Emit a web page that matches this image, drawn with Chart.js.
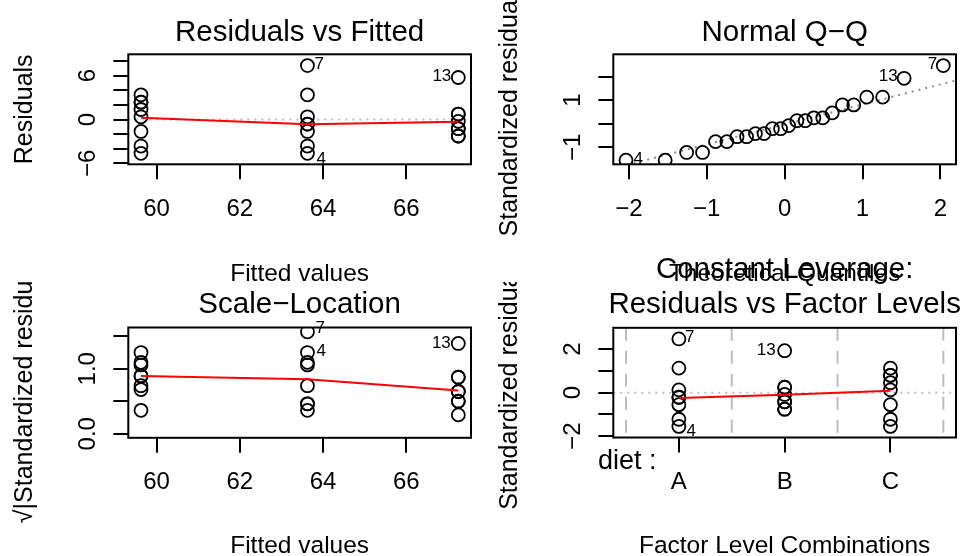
<!DOCTYPE html>
<html>
<head>
<meta charset="utf-8">
<script src="https://cdn.jsdelivr.net/npm/chart.js@4.4.0/dist/chart.umd.min.js"></script>
<style>
  html, body { margin: 0; padding: 0; background: #fff; }
  #wrap { position: relative; width: 971px; height: 556px; overflow: hidden; }
  #wrap canvas { position: absolute; left: 0; top: 0; }
</style>
</head>
<body>
<div id="wrap">
  <canvas id="resfit" width="971" height="556"></canvas>
  <canvas id="qq" width="971" height="556"></canvas>
  <canvas id="scaleloc" width="971" height="556"></canvas>
  <canvas id="factor" width="971" height="556"></canvas>
</div>
<script>
// --- data ---

// fitted value of each diet group
const fittedLevels = [59.625, 63.625, 67.25];

// residuals per fitted group (middle group: obs 7 first, obs 4 last; top group: obs 13 first)
const residLow  = [3.375, 2.375, 2.375, 1.375, 0.375, -1.625, -3.625, -4.625];
const residMid  = [7.375, 3.375, 0.375, -0.625, -0.625, -1.625, -3.625, -4.625];
const residHigh = [5.75, 0.75, 0.75, -0.25, -1.25, -1.25, -2.25, -2.25];
const residSmooth = [0.25, -0.65, -0.3];

// normal Q-Q
const theoQuantiles = [-2.037, -1.534, -1.258, -1.054, -0.887, -0.742, -0.611, -0.489,
  -0.375, -0.264, -0.157, -0.052, 0.052, 0.157, 0.264, 0.375, 0.489, 0.611, 0.742,
  0.887, 1.054, 1.258, 1.534, 2.037];
const stdResidSorted = [-1.55, -1.55, -1.22, -1.22, -0.76, -0.76, -0.55, -0.55,
  -0.42, -0.42, -0.21, -0.21, -0.08, 0.13, 0.13, 0.25, 0.25, 0.46, 0.80, 0.80,
  1.13, 1.13, 1.93, 2.47];
const qqSlope = 0.85;
const qqIntercept = -0.03;

// scale-location, sqrt(|standardized residual|)
const sqrtLow  = [1.06, 0.89, 0.89, 0.68, 0.36, 0.74, 1.10, 1.25];
const sqrtMid  = [1.57, 1.06, 0.36, 0.46, 0.46, 0.74, 1.10, 1.25];
const sqrtHigh = [1.39, 0.50, 0.50, 0.29, 0.65, 0.65, 0.87, 0.87];
const sqrtSmooth = [0.89, 0.84, 0.665];

// standardized residuals vs factor levels
const dietLevels = ['A', 'B', 'C'];
const stdA = [2.47, 1.13, 0.13, -0.21, -0.21, -0.55, -1.22, -1.55];
const stdB = [1.93, 0.25, 0.25, -0.08, -0.42, -0.42, -0.76, -0.76];
const stdC = [1.13, 0.80, 0.80, 0.46, 0.13, -0.55, -1.22, -1.55];
const factorSmooth = [-0.24, -0.09, 0.09];
const levelBreaks = [0.5, 1.5, 2.5, 3.5];

// ticks
const fitTicks = [60, 62, 64, 66];
const residTicks = [-6, -4, -2, 0, 2, 4, 6, 8];
const residTickLabels = [-6, 0, 6];
const qqXTicks = [-2, -1, 0, 1, 2];
const qqYTicks = [-1, 0, 1, 2];
const qqYTickLabels = [-1, 1];
const sqrtTicks = [0, 0.5, 1, 1.5];
const sqrtTickLabels = [0, 1];
const factorXTicks = [1, 2, 3];
const factorYTicks = [-2, -1, 0, 1, 2];
const factorYTickLabels = [-2, 0, 2];

// --- drawing ---
const FAMILY = '"Liberation Sans", Arial, Helvetica, sans-serif';
const font = px => px + 'px ' + FAMILY;
const minus = s => String(s).replace('-', '\u2212');
const Wy = 70, Hx = 70;

const decor = {};   // per canvas: titles, axis titles, labels, reference lines

const decorPlugin = {
    id: 'rdecor',
    beforeDatasetsDraw(chart) {
        const d = decor[chart.canvas.id];
        const ctx = chart.ctx, a = chart.chartArea;
        const xs = chart.scales.x, ys = chart.scales.y;
        ctx.save();
        ctx.beginPath();
        ctx.rect(a.left, a.top, a.right - a.left, a.bottom - a.top);
        ctx.clip();
        ctx.lineWidth = 2;
        // dotted zero line
        if (d.zeroLine) {
            const y = ys.getPixelForValue(0);
            ctx.strokeStyle = '#bebebe';
            ctx.setLineDash([2, 5]);
            ctx.beginPath(); ctx.moveTo(a.left, y); ctx.lineTo(a.right, y); ctx.stroke();
        }
        // dashed factor level separators
        if (d.vBreaks) {
            ctx.strokeStyle = '#bebebe';
            ctx.setLineDash([13, 10]);
            d.vBreaks.forEach(v => {
                const x = xs.getPixelForValue(v);
                ctx.beginPath(); ctx.moveTo(x, a.top); ctx.lineTo(x, a.bottom); ctx.stroke();
            });
        }
        // qq reference line
        if (d.abline) {
            const x0 = xs.min, x1 = xs.max;
            ctx.strokeStyle = '#8c8c8c';
            ctx.setLineDash([2, 5]);
            ctx.beginPath();
            ctx.moveTo(xs.getPixelForValue(x0), ys.getPixelForValue(d.abline.a + d.abline.b * x0));
            ctx.lineTo(xs.getPixelForValue(x1), ys.getPixelForValue(d.abline.a + d.abline.b * x1));
            ctx.stroke();
        }
        ctx.restore();
    },
    afterDraw(chart) {
        const d = decor[chart.canvas.id];
        const ctx = chart.ctx, a = chart.chartArea;
        const xs = chart.scales.x, ys = chart.scales.y;
        const cx = (a.left + a.right) / 2, cy = (a.top + a.bottom) / 2;
        ctx.save();
        // plot box
        ctx.strokeStyle = '#000';
        ctx.lineWidth = 2;
        ctx.setLineDash([]);
        ctx.strokeRect(a.left, a.top, a.right - a.left, a.bottom - a.top);

        ctx.fillStyle = '#000';
        ctx.textBaseline = 'alphabetic';
        ctx.textAlign = 'center';
        // main title
        ctx.font = font(29.5);
        d.title.forEach(t => ctx.fillText(t.text, cx, t.base));
        // x axis title
        ctx.font = font(24.5);
        ctx.fillText(d.xTitle, cx, d.xTitleBase);
        // extra text (factor name)
        if (d.extra) {
            ctx.font = font(d.extra.size);
            ctx.textAlign = 'left';
            ctx.fillText(d.extra.text, d.extra.x, d.extra.base);
        }
        // y axis title, clipped to the figure region
        ctx.save();
        ctx.beginPath();
        ctx.rect(0, d.clipTop, 971, 556 - d.clipTop);
        ctx.clip();
        ctx.translate(d.yTitleX, cy);
        ctx.rotate(-Math.PI / 2);
        ctx.textAlign = 'center';
        ctx.font = font(25);
        ctx.fillText(d.yTitle, 0, 0);
        ctx.restore();
        // point id labels
        ctx.font = font(17);
        ctx.textBaseline = 'middle';
        d.ids.forEach(p => {
            ctx.textAlign = p.align;
            ctx.fillText(p.text, xs.getPixelForValue(p.x) + p.dx, ys.getPixelForValue(p.y) + p.dy);
        });
        ctx.restore();
    }
};

function axisOpts(cfg, vertical) {
    const o = {
        type: 'linear',
        position: vertical ? 'left' : 'bottom',
        min: cfg.min,
        max: cfg.max,
        afterBuildTicks: s => { s.ticks = cfg.ticks.map(v => ({ value: v })); },
        grid: { display: true, drawOnChartArea: false, drawTicks: true, tickLength: 15, color: '#000', lineWidth: 2 },
        border: { display: false },
        ticks: {
            autoSkip: false,
            color: '#000',
            font: { family: FAMILY, size: 24 },
            padding: cfg.pad,
            callback: cfg.label
        }
    };
    if (vertical) {
        o.afterFit = s => { s.width = Wy; };
        o.ticks.minRotation = 90;
        o.ticks.maxRotation = 90;
        o.ticks.crossAlign = 'center';
    } else {
        o.afterFit = s => { s.height = Hx; };
        o.ticks.minRotation = 0;
        o.ticks.maxRotation = 0;
    }
    return o;
}

function buildPanel(id, geo, xCfg, yCfg, points, smooth) {
    return new Chart(document.getElementById(id), {
        type: 'scatter',
        data: {
            datasets: [
                {
                    data: smooth, showLine: true, borderColor: '#ff0000', borderWidth: 2,
                    pointRadius: 0, tension: 0, fill: false, order: 0
                },
                {
                    data: points, pointStyle: 'circle', pointRadius: 6.5, pointBorderWidth: 1.8,
                    pointBorderColor: '#000', pointBackgroundColor: 'rgba(0,0,0,0)', showLine: false, order: 1
                }
            ]
        },
        options: {
            responsive: false,
            animation: false,
            devicePixelRatio: 1,
            events: [],
            layout: {
                autoPadding: false,
                padding: { left: geo.L - Wy, top: geo.T, right: 971 - geo.R, bottom: 556 - geo.B - Hx }
            },
            plugins: { legend: { display: false }, tooltip: { enabled: false }, title: { display: false } },
            scales: { x: axisOpts(xCfg, false), y: axisOpts(yCfg, true) }
        },
        plugins: [decorPlugin]
    });
}

const groupPoints = (xs, groups) => {
    const pts = [];
    groups.forEach((g, i) => g.forEach(v => pts.push({ x: xs[i], y: v })));
    return pts;
};
const linePoints = (xs, ys) => xs.map((x, i) => ({ x: x, y: ys[i] }));
const plainLabel = v => minus(v);
const someLabels = (keep, digits) => v => keep.includes(v) ? minus(digits ? v.toFixed(digits) : v) : '';

// 1. Residuals vs Fitted
decor.resfit = {
    title: [{ text: 'Residuals vs Fitted', base: 40.7 }],
    xTitle: 'Fitted values', xTitleBase: 280.5,
    yTitle: 'Residuals', yTitleX: 32, clipTop: 0,
    zeroLine: true,
    ids: [
        { x: fittedLevels[1], y: residMid[0], text: '7', dx: 7, dy: -1, align: 'left' },
        { x: fittedLevels[1], y: residMid[7], text: '4', dx: 9, dy: 5.5, align: 'left' },
        { x: fittedLevels[2], y: residHigh[0], text: '13', dx: -7, dy: -0.7, align: 'right' }
    ]
};
buildPanel('resfit', { L: 128.3, R: 471, T: 54.3, B: 164.3 },
    { min: 59.32, max: 67.555, ticks: fitTicks, pad: 16, label: plainLabel },
    { min: -6.12, max: 8.92, ticks: residTicks, pad: 11.6, label: someLabels(residTickLabels) },
    groupPoints(fittedLevels, [residLow, residMid, residHigh]),
    linePoints(fittedLevels, residSmooth));

// 2. Normal Q-Q
decor.qq = {
    title: [{ text: 'Normal Q\u2212Q', base: 40.7 }],
    xTitle: 'Theoretical Quantiles', xTitleBase: 280.5,
    yTitle: 'Standardized residuals', yTitleX: 517, clipTop: 0,
    abline: { a: qqIntercept, b: qqSlope },
    ids: [
        { x: theoQuantiles[23], y: stdResidSorted[23], text: '7', dx: -6, dy: -1.5, align: 'right' },
        { x: theoQuantiles[22], y: stdResidSorted[22], text: '13', dx: -6.5, dy: -1.5, align: 'right' },
        { x: theoQuantiles[0], y: stdResidSorted[0], text: '4', dx: 7.5, dy: -0.7, align: 'left' }
    ]
};
buildPanel('qq', { L: 613.3, R: 956, T: 54.3, B: 164.3 },
    { min: -2.2, max: 2.2, ticks: qqXTicks, pad: 16, label: plainLabel },
    { min: -1.724, max: 2.95, ticks: qqYTicks, pad: 11.6, label: someLabels(qqYTickLabels) },
    linePoints(theoQuantiles, stdResidSorted),
    []);

// 3. Scale-Location
decor.scaleloc = {
    title: [{ text: 'Scale\u2212Location', base: 313 }],
    xTitle: 'Fitted values', xTitleBase: 553,
    yTitle: '\u221A|Standardized residuals|', yTitleX: 32, clipTop: 282,
    ids: [
        { x: fittedLevels[1], y: sqrtMid[0], text: '7', dx: 8, dy: -3.3, align: 'left' },
        { x: fittedLevels[1], y: sqrtMid[7], text: '4', dx: 9, dy: -1, align: 'left' },
        { x: fittedLevels[2], y: sqrtHigh[0], text: '13', dx: -7.5, dy: -0.5, align: 'right' }
    ]
};
buildPanel('scaleloc', { L: 128.3, R: 471, T: 327.5, B: 437.8 },
    { min: 59.32, max: 67.555, ticks: fitTicks, pad: 15.6, label: plainLabel },
    { min: -0.063, max: 1.636, ticks: sqrtTicks, pad: 8.6, label: someLabels(sqrtTickLabels, 1) },
    groupPoints(fittedLevels, [sqrtLow, sqrtMid, sqrtHigh]),
    linePoints(fittedLevels, sqrtSmooth));

// 4. Residuals vs Factor Levels
decor.factor = {
    title: [
        { text: 'Constant Leverage:', base: 278 },
        { text: 'Residuals vs Factor Levels', base: 313 }
    ],
    xTitle: 'Factor Level Combinations', xTitleBase: 553,
    yTitle: 'Standardized residuals', yTitleX: 517, clipTop: 282,
    zeroLine: true,
    vBreaks: levelBreaks,
    extra: { text: 'diet :', x: 598, base: 468.7, size: 27 },
    ids: [
        { x: factorXTicks[0], y: stdA[0], text: '7', dx: 6, dy: -1.6, align: 'left' },
        { x: factorXTicks[0], y: stdA[7], text: '4', dx: 7.5, dy: 4.5, align: 'left' },
        { x: factorXTicks[1], y: stdB[0], text: '13', dx: -9, dy: -0.6, align: 'right' }
    ]
};
buildPanel('factor', { L: 613.3, R: 956, T: 327.8, B: 437.5 },
    { min: 0.38, max: 3.62, ticks: factorXTicks, pad: 15.6, label: v => dietLevels[v - 1] },
    { min: -2.06, max: 2.983, ticks: factorYTicks, pad: 11.6, label: someLabels(factorYTickLabels) },
    groupPoints(factorXTicks, [stdA, stdB, stdC]),
    linePoints(factorXTicks, factorSmooth));
</script>
</body>
</html>
